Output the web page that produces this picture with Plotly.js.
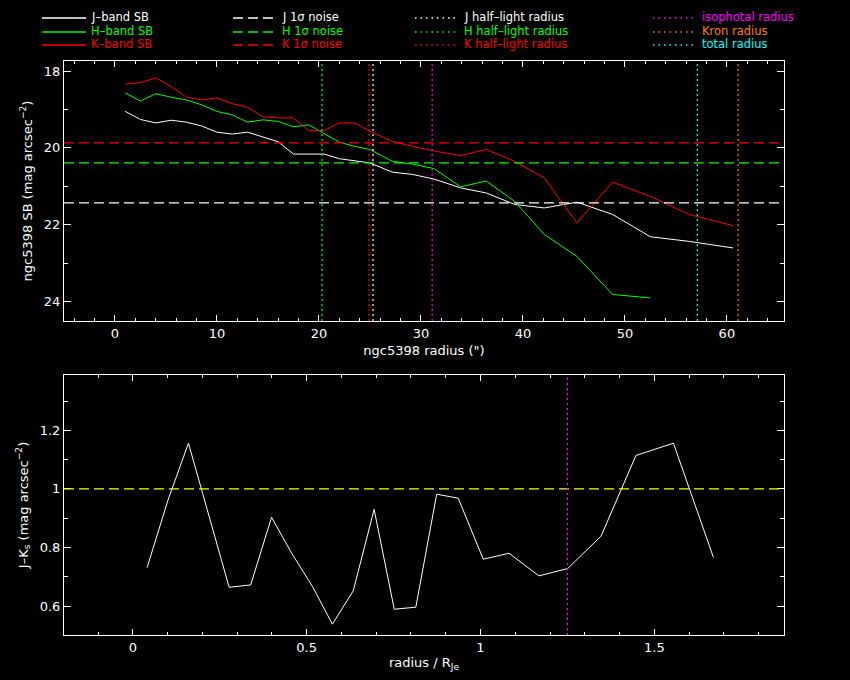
<!DOCTYPE html>
<html>
<head>
<meta charset="utf-8">
<script src="https://cdn.plot.ly/plotly-3.0.1.min.js"></script>
<style>
  html, body { margin: 0; padding: 0; background: #000; }
  #chart { width: 850px; height: 680px; }
</style>
</head>
<body>
<div id="chart"></div>
<script>
// surface brightness profiles (mag arcsec^-2) against radius (")
const radius = [1, 2.5, 4, 5.5, 7, 8.5, 10, 11.5, 13, 14.5, 16, 17.5, 19, 20.5, 22, 23.5, 25,
                27.2, 29.2, 31.3, 33.9, 36.4, 39.2, 42.1, 45.3, 48.8, 52.5, 56.3, 60.6];
const jSB = [19.05, 19.26, 19.35, 19.28, 19.33, 19.43, 19.59, 19.64, 19.59, 19.71, 19.84, 20.16, 20.16, 20.16, 20.28, 20.33, 20.39,
             20.63, 20.69, 20.81, 21.04, 21.17, 21.47, 21.56, 21.41, 21.73, 22.31, 22.43, 22.60];
const hSB = [18.57, 18.78, 18.59, 18.68, 18.75, 18.88, 19.05, 19.14, 19.33, 19.27, 19.31, 19.45, 19.40, 19.63, 19.85, 19.96, 20.04,
             20.35, 20.42, 20.54, 21.01, 20.86, 21.39, 22.25, 22.82, 23.81, 23.90];
const kSB = [18.34, 18.30, 18.18, 18.40, 18.68, 18.75, 18.70, 18.85, 18.94, 19.19, 19.22, 19.22, 19.55, 19.55, 19.35, 19.35, 19.57,
             19.83, 19.96, 20.08, 20.20, 20.04, 20.35, 20.78, 21.95, 20.89, 21.26, 21.73, 22.02];

// 1 sigma noise levels J, H, K
const noiseLevel = [21.43, 20.39, 19.87];
// half-light radii J, H, K
const halfLightRadius = [25.3, 20.3, 24.9];
const isophotalRadius = 31.1;
const kronRadius = 61.1;
const totalRadius = 57.1;

// J-K colour against radius / R_Je
const rNorm = [0.041, 0.102, 0.160, 0.220, 0.277, 0.339, 0.399, 0.457, 0.517, 0.574, 0.634, 0.694,
               0.752, 0.814, 0.874, 0.936, 1.008, 1.082, 1.168, 1.251, 1.347, 1.447, 1.555, 1.670];
const jkColour = [0.731, 0.965, 1.156, 0.907, 0.664, 0.672, 0.903, 0.780, 0.666, 0.538, 0.652, 0.930,
                  0.589, 0.596, 0.982, 0.968, 0.760, 0.780, 0.703, 0.728, 0.839, 1.114, 1.156, 0.766];
const jkReference = 1.0;
const isophotalRadiusNorm = 1.25;

const legendNames = [
  ['J\u2013band SB', 'H\u2013band SB', 'K\u2013band SB'],
  ['J 1\u03c3 noise', 'H 1\u03c3 noise', 'K 1\u03c3 noise'],
  ['J half\u2013light radius', 'H half\u2013light radius', 'K half\u2013light radius'],
  ['isophotal radius', 'Kron radius', 'total radius']
];

const WHITE = '#ffffff', GREEN = '#00ff00', RED = '#ff0000';
const MAGENTA = '#ff00ff', ORANGE = '#ff8000', CYAN = '#00ffff', YELLOW = '#ffff00';
const bandColors = [WHITE, GREEN, RED];
const legendColors = [bandColors, bandColors, bandColors, [MAGENTA, ORANGE, CYAN]];
const DASH = '10px,5px';
const DOT = '2px,3px';
const legendDash = ['solid', DASH, '1.5px,4px', '1.5px,4px'];

const FONT = 'DejaVu Sans';

// page geometry, plot area is 64..784 x 61..635
const W = 850, H = 680, ML = 64, MR = 66, MT = 61, MB = 45;
const px2x = px => (px - ML) / (W - ML - MR);
const px2y = py => (H - MB - py) / (H - MT - MB);

let traces = [];
[jSB, hSB, kSB].forEach((sb, i) => {
  traces.push({
    x: radius.slice(0, sb.length),
    y: sb,
    type: 'scatter',
    mode: 'lines',
    line: {color: bandColors[i], width: 1},
    xaxis: 'x', yaxis: 'y',
    hoverinfo: 'skip'
  });
});
traces.push({
  x: rNorm,
  y: jkColour,
  type: 'scatter',
  mode: 'lines',
  line: {color: WHITE, width: 1},
  xaxis: 'x2', yaxis: 'y2',
  hoverinfo: 'skip'
});

let shapes = [];
noiseLevel.forEach((v, i) => {
  shapes.push({type: 'line', xref: 'x domain', x0: 0, x1: 1, yref: 'y', y0: v, y1: v,
               line: {color: bandColors[i], width: 1.3, dash: DASH}});
});
let vlines = [
  [halfLightRadius[0], WHITE], [halfLightRadius[1], GREEN], [halfLightRadius[2], RED],
  [isophotalRadius, MAGENTA], [kronRadius, ORANGE], [totalRadius, CYAN]
];
vlines.forEach(([r, c]) => {
  shapes.push({type: 'line', xref: 'x', x0: r, x1: r, yref: 'y domain', y0: 0, y1: 1,
               line: {color: c, width: 1.2, dash: DOT}});
});
shapes.push({type: 'line', xref: 'x2 domain', x0: 0, x1: 1, yref: 'y2', y0: jkReference, y1: jkReference,
             line: {color: YELLOW, width: 1.3, dash: DASH}});
shapes.push({type: 'line', xref: 'x2', x0: isophotalRadiusNorm, x1: isophotalRadiusNorm, yref: 'y2 domain', y0: 0, y1: 1,
             line: {color: MAGENTA, width: 1.2, dash: DOT}});

// legend block drawn above the top panel
const legLineStart = [42, 233, 415, 653];
const legLineEnd = [86, 277, 457, 693];
const legTextStart = [90, 281, 463, 701];
const legRowY = [17, 31, 44];
let annotations = [];
legendNames.forEach((col, c) => {
  col.forEach((name, r) => {
    let color = legendColors[c][r];
    shapes.push({type: 'line', xref: 'paper', yref: 'paper',
                 x0: px2x(legLineStart[c]), x1: px2x(legLineEnd[c]),
                 y0: px2y(legRowY[r] + 1), y1: px2y(legRowY[r] + 1),
                 line: {color: color, width: 1.5, dash: legendDash[c]}});
    annotations.push({xref: 'paper', yref: 'paper', x: px2x(legTextStart[c]), y: px2y(legRowY[r]),
                      xanchor: 'left', yanchor: 'middle', showarrow: false, text: name,
                      borderpad: 0,
                      font: {family: FONT, size: 11.5, color: color}});
  });
});

function frameAxis(extra) {
  return Object.assign({
    showline: true, linecolor: WHITE, linewidth: 1,
    mirror: 'allticks', ticks: 'inside', tickcolor: WHITE, tickwidth: 1,
    showgrid: false, zeroline: false,
    tickfont: {family: FONT, size: 13, color: WHITE}
  }, extra);
}

let layout = {
  width: W, height: H,
  paper_bgcolor: '#000', plot_bgcolor: '#000',
  showlegend: false,
  margin: {l: ML, r: MR, t: MT, b: MB, pad: 0},
  xaxis: frameAxis({
    domain: [0, 1], anchor: 'y', range: [-5, 65.6], tick0: 0, dtick: 10, ticklen: 6,
    minor: {dtick: 2, ticklen: 3, ticks: 'inside', tickcolor: WHITE},
    title: {text: 'ngc5398 radius (")', font: {family: FONT, size: 13, color: WHITE}, standoff: 6}
  }),
  yaxis: frameAxis({
    domain: [0.547, 1], anchor: 'x', range: [24.5, 17.74], tick0: 18, dtick: 2, ticklen: 7,
    minor: {dtick: 1, ticklen: 4, ticks: 'inside', tickcolor: WHITE},
    title: {text: 'ngc5398 SB (mag arcsec<sup>\u22122</sup>)', font: {family: FONT, size: 13, color: WHITE}, standoff: 8}
  }),
  xaxis2: frameAxis({
    domain: [0, 1], anchor: 'y2', range: [-0.198, 1.873], tick0: 0, dtick: 0.5, ticklen: 6,
    minor: {dtick: 0.1, ticklen: 3, ticks: 'inside', tickcolor: WHITE},
    title: {text: 'radius / R<sub>Je</sub>', font: {family: FONT, size: 13, color: WHITE}, standoff: 4}
  }),
  yaxis2: frameAxis({
    domain: [0, 0.453], anchor: 'x2', range: [0.501, 1.389], tick0: 0, dtick: 0.2, ticklen: 7,
    minor: {dtick: 0.1, ticklen: 4, ticks: 'inside', tickcolor: WHITE},
    title: {text: 'J\u2013K<sub>s</sub> (mag arcsec<sup>\u22122</sup>)', font: {family: FONT, size: 13, color: WHITE}, standoff: 8}
  }),
  shapes: shapes,
  annotations: annotations
};

Plotly.newPlot('chart', traces, layout, {displayModeBar: false, staticPlot: true});
</script>
</body>
</html>
